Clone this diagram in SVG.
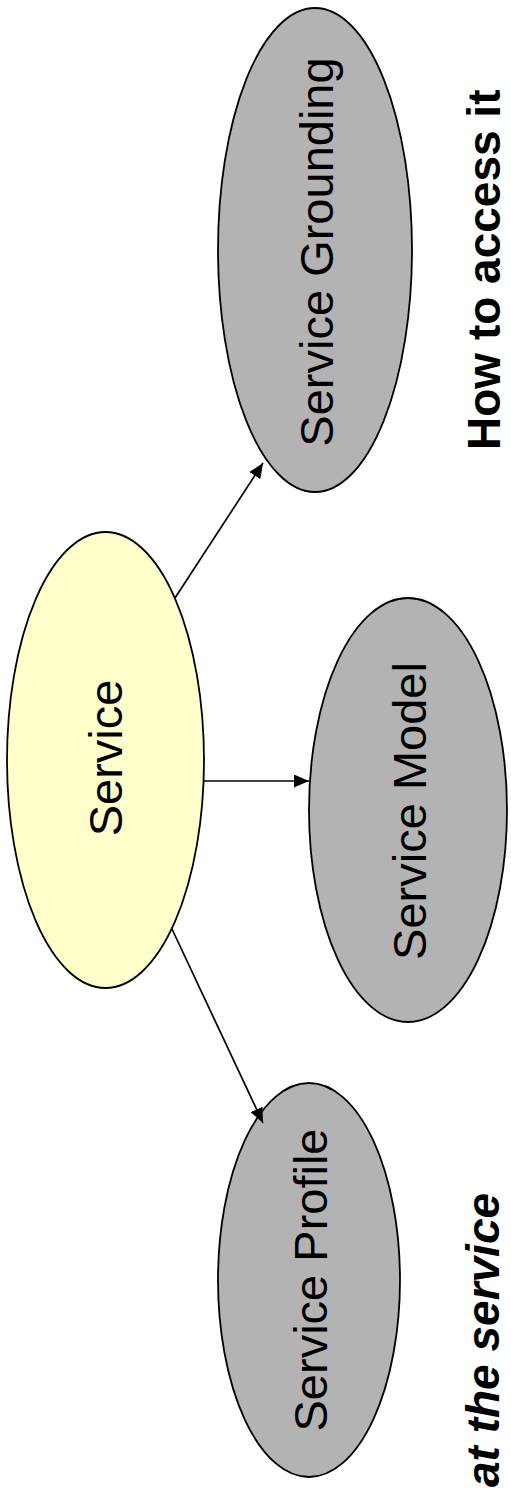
<svg xmlns="http://www.w3.org/2000/svg" width="511" height="1488" viewBox="0 0 511 1488">
  <defs>
    <marker id="arrow" viewBox="0 0 15 13" refX="15" refY="6.5" markerWidth="15" markerHeight="13" markerUnits="userSpaceOnUse" orient="auto">
      <path d="M0,0 L15,6.5 L0,13 Z" fill="#000"/>
    </marker>
    <style>
      .node { stroke: #000; stroke-width: 1.8; }
      .root { fill: #FFFFCC; }
      .part { fill: #B3B3B3; }
      .label { font-family: "Liberation Sans", Arial, sans-serif; font-size: 47px; fill: #000; text-anchor: middle; }
      .note { font-family: "Liberation Sans", Arial, sans-serif; font-size: 46px; font-weight: bold; fill: #000; }
      .edge { stroke: #000; stroke-width: 1.7; fill: none; marker-end: url(#arrow); }
    </style>
  </defs>

  <rect width="511" height="1488" fill="#fff"/>

  <!-- nodes -->
  <g id="service">
    <ellipse class="node root" cx="105.5" cy="760" rx="98.5" ry="228"/>
    <text class="label" transform="translate(122,758) rotate(-90)">Service</text>
  </g>

  <g id="service-grounding">
    <ellipse class="node part" cx="315" cy="250" rx="97" ry="242"/>
    <text class="label" font-size="46.5" transform="translate(333,252) rotate(-90)">Service Grounding</text>
  </g>

  <g id="service-model">
    <ellipse class="node part" cx="408" cy="810" rx="99" ry="212"/>
    <text class="label" transform="translate(426,811) rotate(-90)">Service Model</text>
  </g>

  <g id="service-profile">
    <ellipse class="node part" cx="309" cy="1280" rx="91" ry="197"/>
    <text class="label" transform="translate(327,1280) rotate(-90)">Service Profile</text>
  </g>

  <!-- connectors -->
  <g id="connectors">
    <line class="edge" x1="175" y1="598" x2="263" y2="463"/>
    <line class="edge" x1="204" y1="781" x2="309" y2="781"/>
    <line class="edge" x1="172" y1="929" x2="263" y2="1123"/>
  </g>

  <!-- side notes -->
  <text class="note" transform="translate(500,450) rotate(-90)">How to access it</text>
  <text class="note" font-style="italic" transform="translate(499,1487) rotate(-90)">at the service</text>
</svg>
